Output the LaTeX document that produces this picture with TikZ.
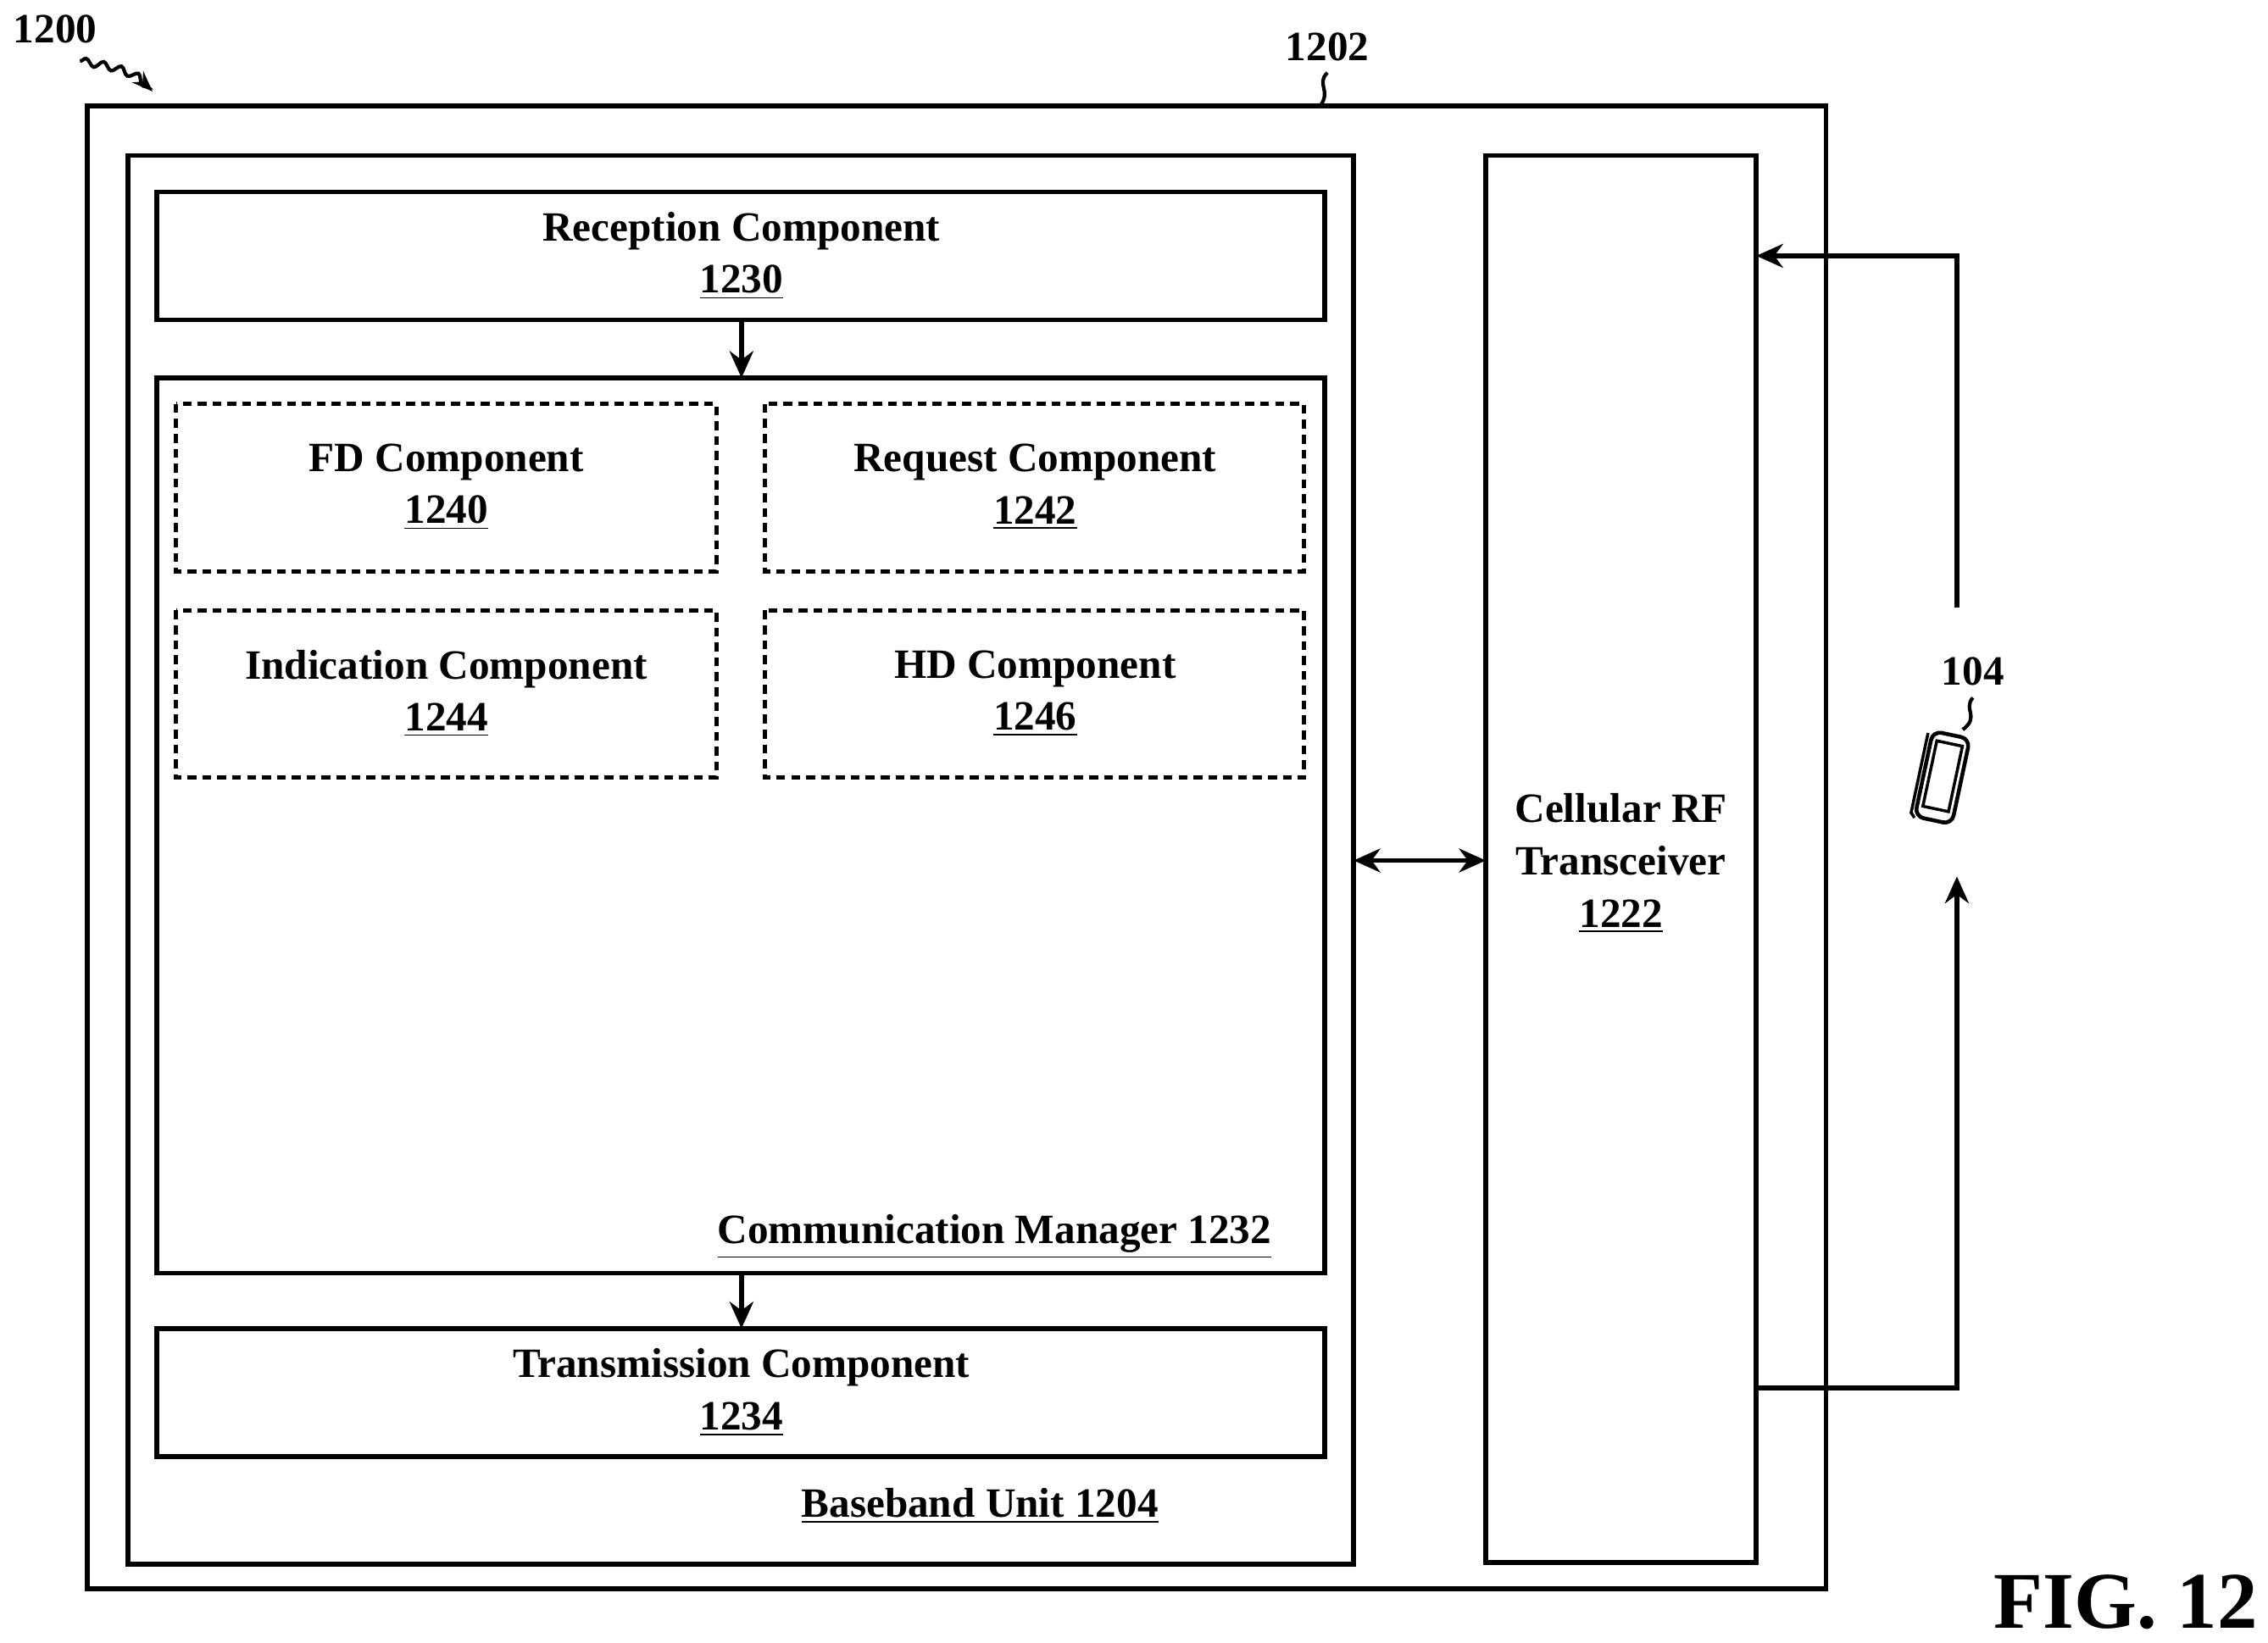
\documentclass[tikz,border=0pt]{standalone}
\usepackage{fontspec}
\setmainfont{Liberation Serif}
\usetikzlibrary{arrows.meta,positioning,decorations.pathmorphing}
\tikzset{
  box/.style={draw,line width=1.6pt,inner sep=0pt},
  dbox/.style={draw,line width=1.4pt,dash pattern=on 3pt off 2pt,inner sep=0pt},
  lbl/.style={font=\fontsize{14}{17.5}\selectfont\bfseries,align=center},
  arr/.style={-{Stealth[length=9pt,width=8pt]},line width=1.6pt},
  sq/.style={line width=1.2pt,decorate,decoration={snake,amplitude=1.2pt,segment length=6pt}}
}
\begin{document}
\begin{tikzpicture}[x=0.01715cm,y=-0.01715cm]
   \useasboundingbox (0,0) rectangle (1560,1130);
   % boxes
   \draw[box] (60,73) rectangle (1256,1093);
   \draw[box] (88,107) rectangle (931,1076);
   \draw[box] (108,132) coordinate (rxtl) rectangle (911,220) coordinate (rxbr);
   \draw[box] (108,260) coordinate (cmtl) rectangle (911,876) coordinate (cmbr);
   \draw[box] (108,914) coordinate (txtl) rectangle (911,1002) coordinate (txbr);
   \draw[box] (1022,107) rectangle (1208,1075);
   \draw[dbox] (121,278) rectangle (493,393);
   \draw[dbox] (526,278) rectangle (897,393);
   \draw[dbox] (121,420) rectangle (493,535);
   \draw[dbox] (526,420) rectangle (897,535);
   % texts
   \node[lbl] (rxl) at (510,176) {Reception Component\\\underline{1230}};
   \node[lbl] (txl) at (510,958) {Transmission Component\\\underline{1234}};
   \node[lbl] (fdl) at (307,335) {FD Component\\\underline{1240}};
   \node[lbl] (rql) at (712,335) {Request Component\\\underline{1242}};
   \node[lbl] (inl) at (307,477) {Indication Component\\\underline{1244}};
   \node[lbl] (hdl) at (712,477) {HD Component\\\underline{1246}};
   \node[lbl] (cml) at (684,851) {\underline{Communication Manager 1232}};
   \node[lbl] (bbl) at (674,1036) {\underline{Baseband Unit 1204}};
   \node[lbl] (rfl) at (1115,594) {Cellular RF\\Transceiver\\\underline{1222}};
   \node[lbl] (n1200) at (38,20) {1200};
   \node[lbl] (n1202) at (913,32) {1202};
   \node[lbl] (n104) at (1357,462) {104};
   \node[font=\fontsize{27}{30}\selectfont\bfseries] (fig) at (1462,1102) {FIG. 12};
   % connectors
   \coordinate (a1) at (510,220); \coordinate (a2) at (510,260);
   \coordinate (b1) at (510,876); \coordinate (b2) at (510,914);
   \draw[arr] (a1) -- (a2);
   \draw[arr] (b1) -- (b2);
   \coordinate (c1) at (931,592); \coordinate (c2) at (1022,592);
   \draw[{Stealth[length=9pt,width=8pt]}-{Stealth[length=9pt,width=8pt]},line width=1.6pt] (c1) -- (c2);
   \coordinate (up1) at (1346,418); \coordinate (rf1) at (1208,176);
   \draw[arr] (up1) |- (rf1);
   \coordinate (rf2) at (1208,955); \coordinate (up2) at (1346,603);
   \draw[arr] (rf2) -| (up2);
   % squiggles
   \draw[sq,-{Stealth[length=7pt]}] (55,42) to[out=-10,in=135] (105,63);
   \draw[line width=1.2pt] (913,50) .. controls (905,58) and (916,62) .. (908,73);
   \draw[line width=1.2pt] (1357,480) .. controls (1350,488) and (1362,493) .. (1350,502);
   % phone
   \begin{scope}[shift={(1336,535)},rotate=-12]
     \draw[line width=1.3pt,rounded corners=3pt] (-13,-30) rectangle (13,30);
     \draw[line width=1pt] (-9,-24) rectangle (9,22);
     \draw[line width=1pt] (-16,-28) -- (-16,28) -- (-13,31);
   \end{scope}
\end{tikzpicture}
\end{document}
